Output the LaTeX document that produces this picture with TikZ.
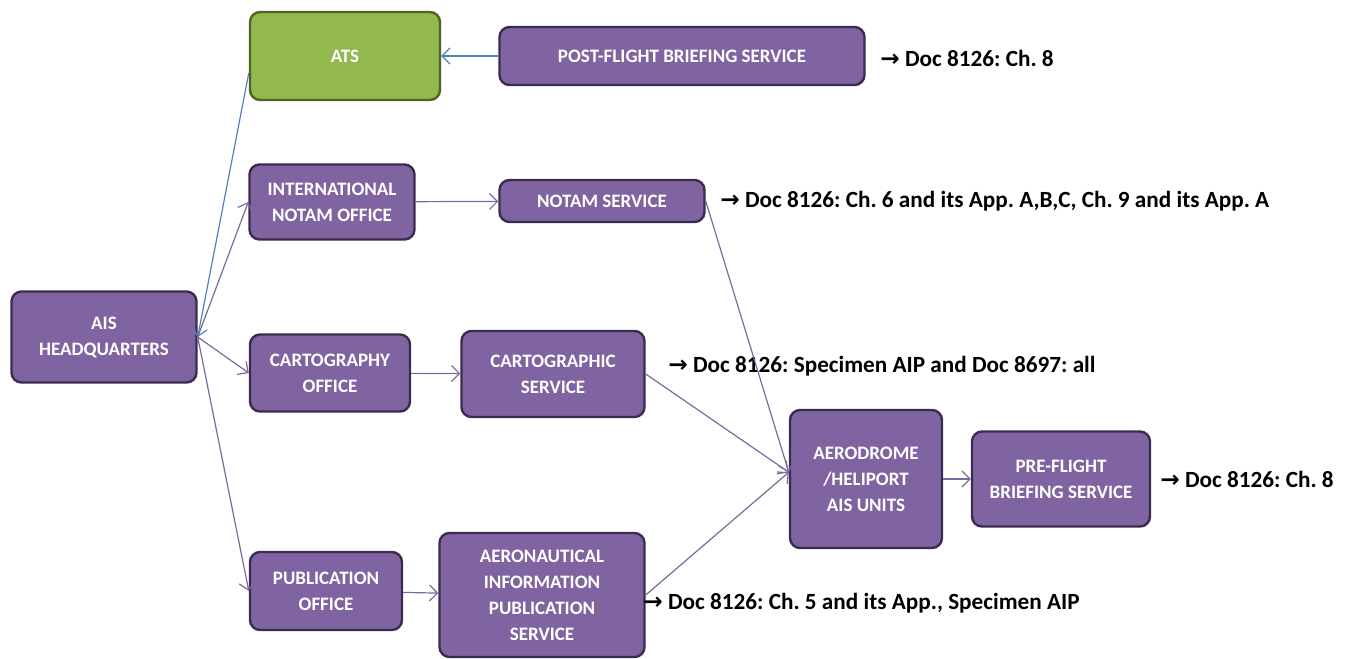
\documentclass[tikz,border=0pt]{standalone}
\usepackage{fontspec}
\setmainfont{Carlito}
\newfontfamily\arrowfont{DejaVu Sans}
\usetikzlibrary{arrows.meta}
\definecolor{boxpurple}{HTML}{8064A2}
\definecolor{boxedge}{HTML}{3A2C4F}
\definecolor{atsgreen}{HTML}{92B84E}
\definecolor{atsedge}{HTML}{4F6228}
\definecolor{linkpurple}{HTML}{7B6A9E}
\definecolor{linkblue}{HTML}{4F81BD}
\newcommand{\docref}{{\arrowfont\bfseries →}\ Doc 8126:}
\frenchspacing

\begin{document}
\begin{tikzpicture}[x=0.5pt, y=-0.5pt,
    unit/.style={draw=boxedge, line width=1.2pt, fill=boxpurple, rounded corners=5pt,
      text=white, align=center, inner sep=0pt,
      font=\fontsize{9.5}{13}\selectfont\bfseries},
    docnote/.style={anchor=west, inner sep=0pt, font=\fontsize{11.6}{13}\selectfont\bfseries},
    link/.style={-{Straight Barb[length=4pt,width=8pt]}, draw=linkpurple, line width=0.6pt},
    back/.style={-{Straight Barb[length=4pt,width=8pt]}, draw=linkblue, line width=0.6pt}]
      \useasboundingbox (0,0) rectangle (1361,659);

      %% boxes
      \node[unit, fill=atsgreen, draw=atsedge, minimum width=95pt, minimum height=44pt] (ats) at (345,56) {ATS};
      \node[unit, minimum width=182.5pt, minimum height=29pt] (post) at (682,56) {POST-FLIGHT BRIEFING SERVICE};
      \node[unit, minimum width=82.5pt, minimum height=37.5pt] (intl) at (332,202) {INTERNATIONAL\\NOTAM OFFICE};
      \node[unit, minimum width=102.5pt, minimum height=21pt] (notam) at (602,201) {NOTAM SERVICE};
      \node[unit, minimum width=92.5pt, minimum height=45.5pt] (hq) at (104,337) {AIS\\HEADQUARTERS};
      \node[unit, minimum width=80pt, minimum height=38.5pt] (carto) at (330,373) {CARTOGRAPHY\\OFFICE};
      \node[unit, minimum width=91.5pt, minimum height=43pt] (cartsvc) at (553,374) {CARTOGRAPHIC\\SERVICE};
      \node[unit, minimum width=76pt, minimum height=69pt] (aero) at (866,479) {AERODROME\\/HELIPORT\\AIS UNITS};
      \node[unit, minimum width=89pt, minimum height=47.5pt] (pre) at (1061,479) {PRE-FLIGHT\\BRIEFING SERVICE};
      \node[unit, minimum width=76pt, minimum height=39pt] (pub) at (326,591) {PUBLICATION\\OFFICE};
      \node[unit, minimum width=102.5pt, minimum height=62pt] (aip) at (542,595) {AERONAUTICAL\\INFORMATION\\PUBLICATION\\SERVICE};

      %% document references
      \node[docnote] (postdoc) at (880,58) {\docref{} Ch. 8};
      \node[docnote] (notamdoc) at (720,201) {\docref{} Ch. 6 and its App. A,B,C, Ch. 9 and its App. A};
      \node[docnote] (cartdoc) at (668,366) {\docref{} Specimen AIP and Doc 8697: all};
      \node[docnote] (predoc) at (1160,479) {\docref{} Ch. 8};
      \node[docnote] (aipdoc) at (643,603) {\docref{} Ch. 5 and its App., Specimen AIP};

      %% connectors
      \draw[back] (post) -- (ats);
      \draw[back] (ats.190) -- (hq.east);
      \draw[link] (hq.east) -- (intl.west);
      \draw[link] (hq.east) -- (carto.west);
      \draw[link] (hq.east) -- (pub.west);
      \draw[link] (intl) -- (notam);
      \draw[link] (carto) -- (cartsvc);
      \draw[link] (pub) -- (aip);
      \draw[link] (notam.east) -- (aero.175);
      \draw[link] (cartsvc.east) -- (aero.175);
      \draw[link] (aip.east) -- (aero.175);
      \draw[link] (aero) -- (pre);

    \end{tikzpicture}
\end{document}
